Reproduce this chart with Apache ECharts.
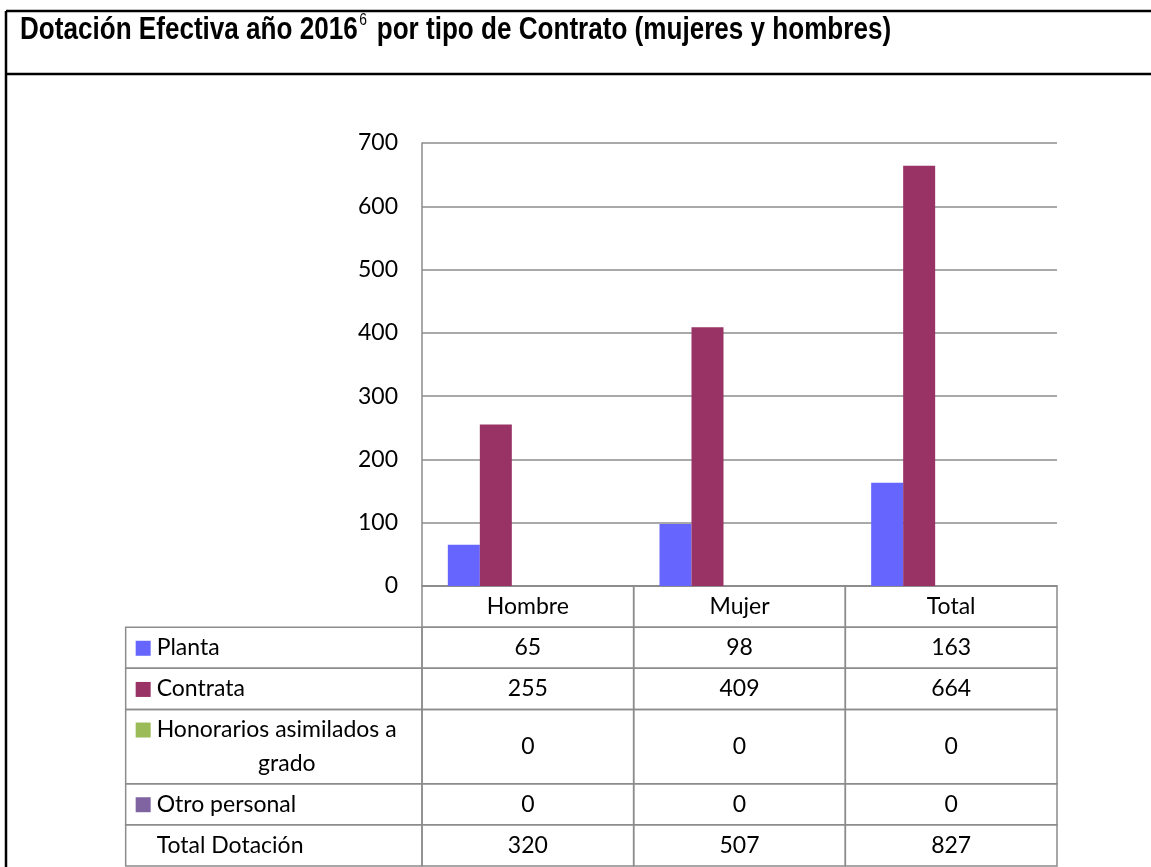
<!DOCTYPE html>
<html>
<head>
<meta charset="utf-8">
<title>Dotación Efectiva año 2016</title>
<script src="https://cdn.jsdelivr.net/npm/echarts@6/dist/echarts.min.js"></script>
<style>
  html, body { margin: 0; padding: 0; background: #fff; }
  #chart { width: 1151px; height: 867px; }
</style>
</head>
<body>
<div id="chart"></div>
<script>
// data
const categories = ['Hombre', 'Mujer', 'Total'];
const planta = [65, 98, 163];
const contrata = [255, 409, 664];
const honorarios = [0, 0, 0];
const otroPersonal = [0, 0, 0];
const totalDotacion = [320, 507, 827];
const seriesNames = ['Planta', 'Contrata', 'Honorarios asimilados a\ngrado', 'Otro personal', 'Total Dotación'];
const yMin = 0, yMax = 700, yStep = 100;

const seriesValues = [planta, contrata, honorarios, otroPersonal, totalDotacion];
// last one (Total Dotación) has no fill in the chart, only in the table
const colors = ['#6666FF', '#993366', '#9BBB59', '#8064A2', null];

// table rows: header row + one row per series; the wrapped row is taller
const rowUnits = [1, 1, 1, 1.8, 1, 1];
const rowStart = [];
let acc = 0;
rowUnits.forEach(u => { rowStart.push(acc); acc += u; });
const tableUnits = acc;

const FONT = 'Lato, "Noto Sans", sans-serif';
const TITLE_FONT = '"Liberation Sans", Arial, sans-serif';
const LINE = '#8c8c8c';

const chart = echarts.init(document.getElementById('chart'));

function cellText(text, x, y, align) {
  return {
    type: 'text',
    style: { text: text, x: x, y: y, align: align, verticalAlign: 'middle',
             textAlign: align, textVerticalAlign: 'middle', font: '23px ' + FONT, fill: '#000' }
  };
}

function renderRow(params, api) {
  const r = api.value(0);
  const y0 = rowStart[r], y1 = y0 + rowUnits[r];
  const top = api.coord([0, y0])[1];
  const bottom = api.coord([0, y1])[1];
  const h = bottom - top;
  const mid = (top + bottom) / 2;
  const bw = api.size([1, 0])[0];
  const cellStroke = { fill: 'none', stroke: LINE, lineWidth: 1.5 };
  const children = [];
  for (let c = 0; c < categories.length; c++) {
    const cx = api.coord([c, y0])[0];
    children.push({ type: 'rect', shape: { x: cx - bw / 2, y: top, width: bw, height: h }, style: cellStroke });
    const txt = r === 0 ? categories[c] : String(seriesValues[r - 1][c]);
    children.push(cellText(txt, cx, mid, 'center'));
  }
  if (r > 0) {
    const right = api.coord([0, y0])[0] - bw / 2;
    const left = right - 1.4 * bw;
    children.push({ type: 'rect', shape: { x: left, y: top, width: right - left, height: h }, style: cellStroke });
    const name = seriesNames[r - 1];
    const color = colors[r - 1];
    const lines = name.split('\n');
    const firstMid = lines.length > 1 ? top + 20 : mid;
    if (color) {
      children.push({ type: 'rect', shape: { x: left + 10, y: firstMid - 7, width: 15, height: 15 }, style: { fill: color } });
    }
    if (lines.length > 1) {
      // wrapped legend text: first line after the key, second line centred
      children.push(cellText(lines[0], left + 31, firstMid, 'left'));
      children.push(cellText(lines[1], (left + 31 + right - 5) / 2, firstMid + 34, 'center'));
    } else {
      children.push(cellText(name, left + 31, mid, 'left'));
    }
  }
  return { type: 'group', children: children };
}

const option = {
  animation: false,
  backgroundColor: '#fff',
  graphic: [
    { type: 'line', shape: { x1: 6, y1: 11, x2: 1151, y2: 11 }, style: { stroke: '#000', lineWidth: 2.5 } },
    { type: 'line', shape: { x1: 6, y1: 74, x2: 1151, y2: 74 }, style: { stroke: '#000', lineWidth: 2.5 } },
    { type: 'line', shape: { x1: 6, y1: 11, x2: 6, y2: 867 }, style: { stroke: '#000', lineWidth: 2.5 } },
    {
      // chart title, narrow bold face
      type: 'text',
      x: 20,
      y: 12,
      scaleX: 0.815,
      style: {
        text: '{t|Dotación Efectiva año 2016}{s|6}{t| por tipo de Contrato (mujeres y hombres)}',
        fill: '#000',
        verticalAlign: 'top',
        rich: {
          t: { fontFamily: TITLE_FONT, fontWeight: 'bold', fontSize: 32, fill: '#000', lineHeight: 37 },
          s: { fontFamily: TITLE_FONT, fontSize: 17, fill: '#000', verticalAlign: 'top', lineHeight: 37, padding: [0, 3, 14, 2] }
        }
      }
    }
  ],
  grid: [
    { left: 422, right: 94, top: 143, bottom: 281 },
    { left: 422, right: 94, top: 586, bottom: 1 }
  ],
  xAxis: [
    {
      type: 'category', gridIndex: 0, data: categories,
      axisLine: { lineStyle: { color: LINE, width: 1.5 } },
      axisTick: { show: false },
      axisLabel: { show: false }
    },
    {
      type: 'category', gridIndex: 1, data: categories,
      axisLine: { show: false }, axisTick: { show: false }, axisLabel: { show: false }
    }
  ],
  yAxis: [
    {
      type: 'value', gridIndex: 0, min: yMin, max: yMax, interval: yStep,
      axisLine: { show: true, lineStyle: { color: LINE, width: 1.5 } },
      axisTick: { show: false },
      axisLabel: { color: '#000', fontFamily: FONT, fontSize: 23, margin: 24 },
      splitLine: { lineStyle: { color: LINE, width: 1.5 } }
    },
    {
      type: 'value', gridIndex: 1, min: 0, max: tableUnits, inverse: true,
      axisLine: { show: false }, axisTick: { show: false }, axisLabel: { show: false }, splitLine: { show: false }
    }
  ],
  series: seriesValues.map((vals, i) => ({
    name: seriesNames[i],
    type: 'bar',
    xAxisIndex: 0,
    yAxisIndex: 0,
    data: vals,
    barGap: 0,
    barCategoryGap: '24.4%',
    itemStyle: { color: colors[i] || 'rgba(0,0,0,0)' },
    silent: true
  })).concat([{
    name: 'tabla',
    type: 'custom',
    xAxisIndex: 1,
    yAxisIndex: 1,
    clip: false,
    silent: true,
    renderItem: renderRow,
    data: rowUnits.map((u, i) => [i])
  }])
};

option && chart.setOption(option);
</script>
</body>
</html>
